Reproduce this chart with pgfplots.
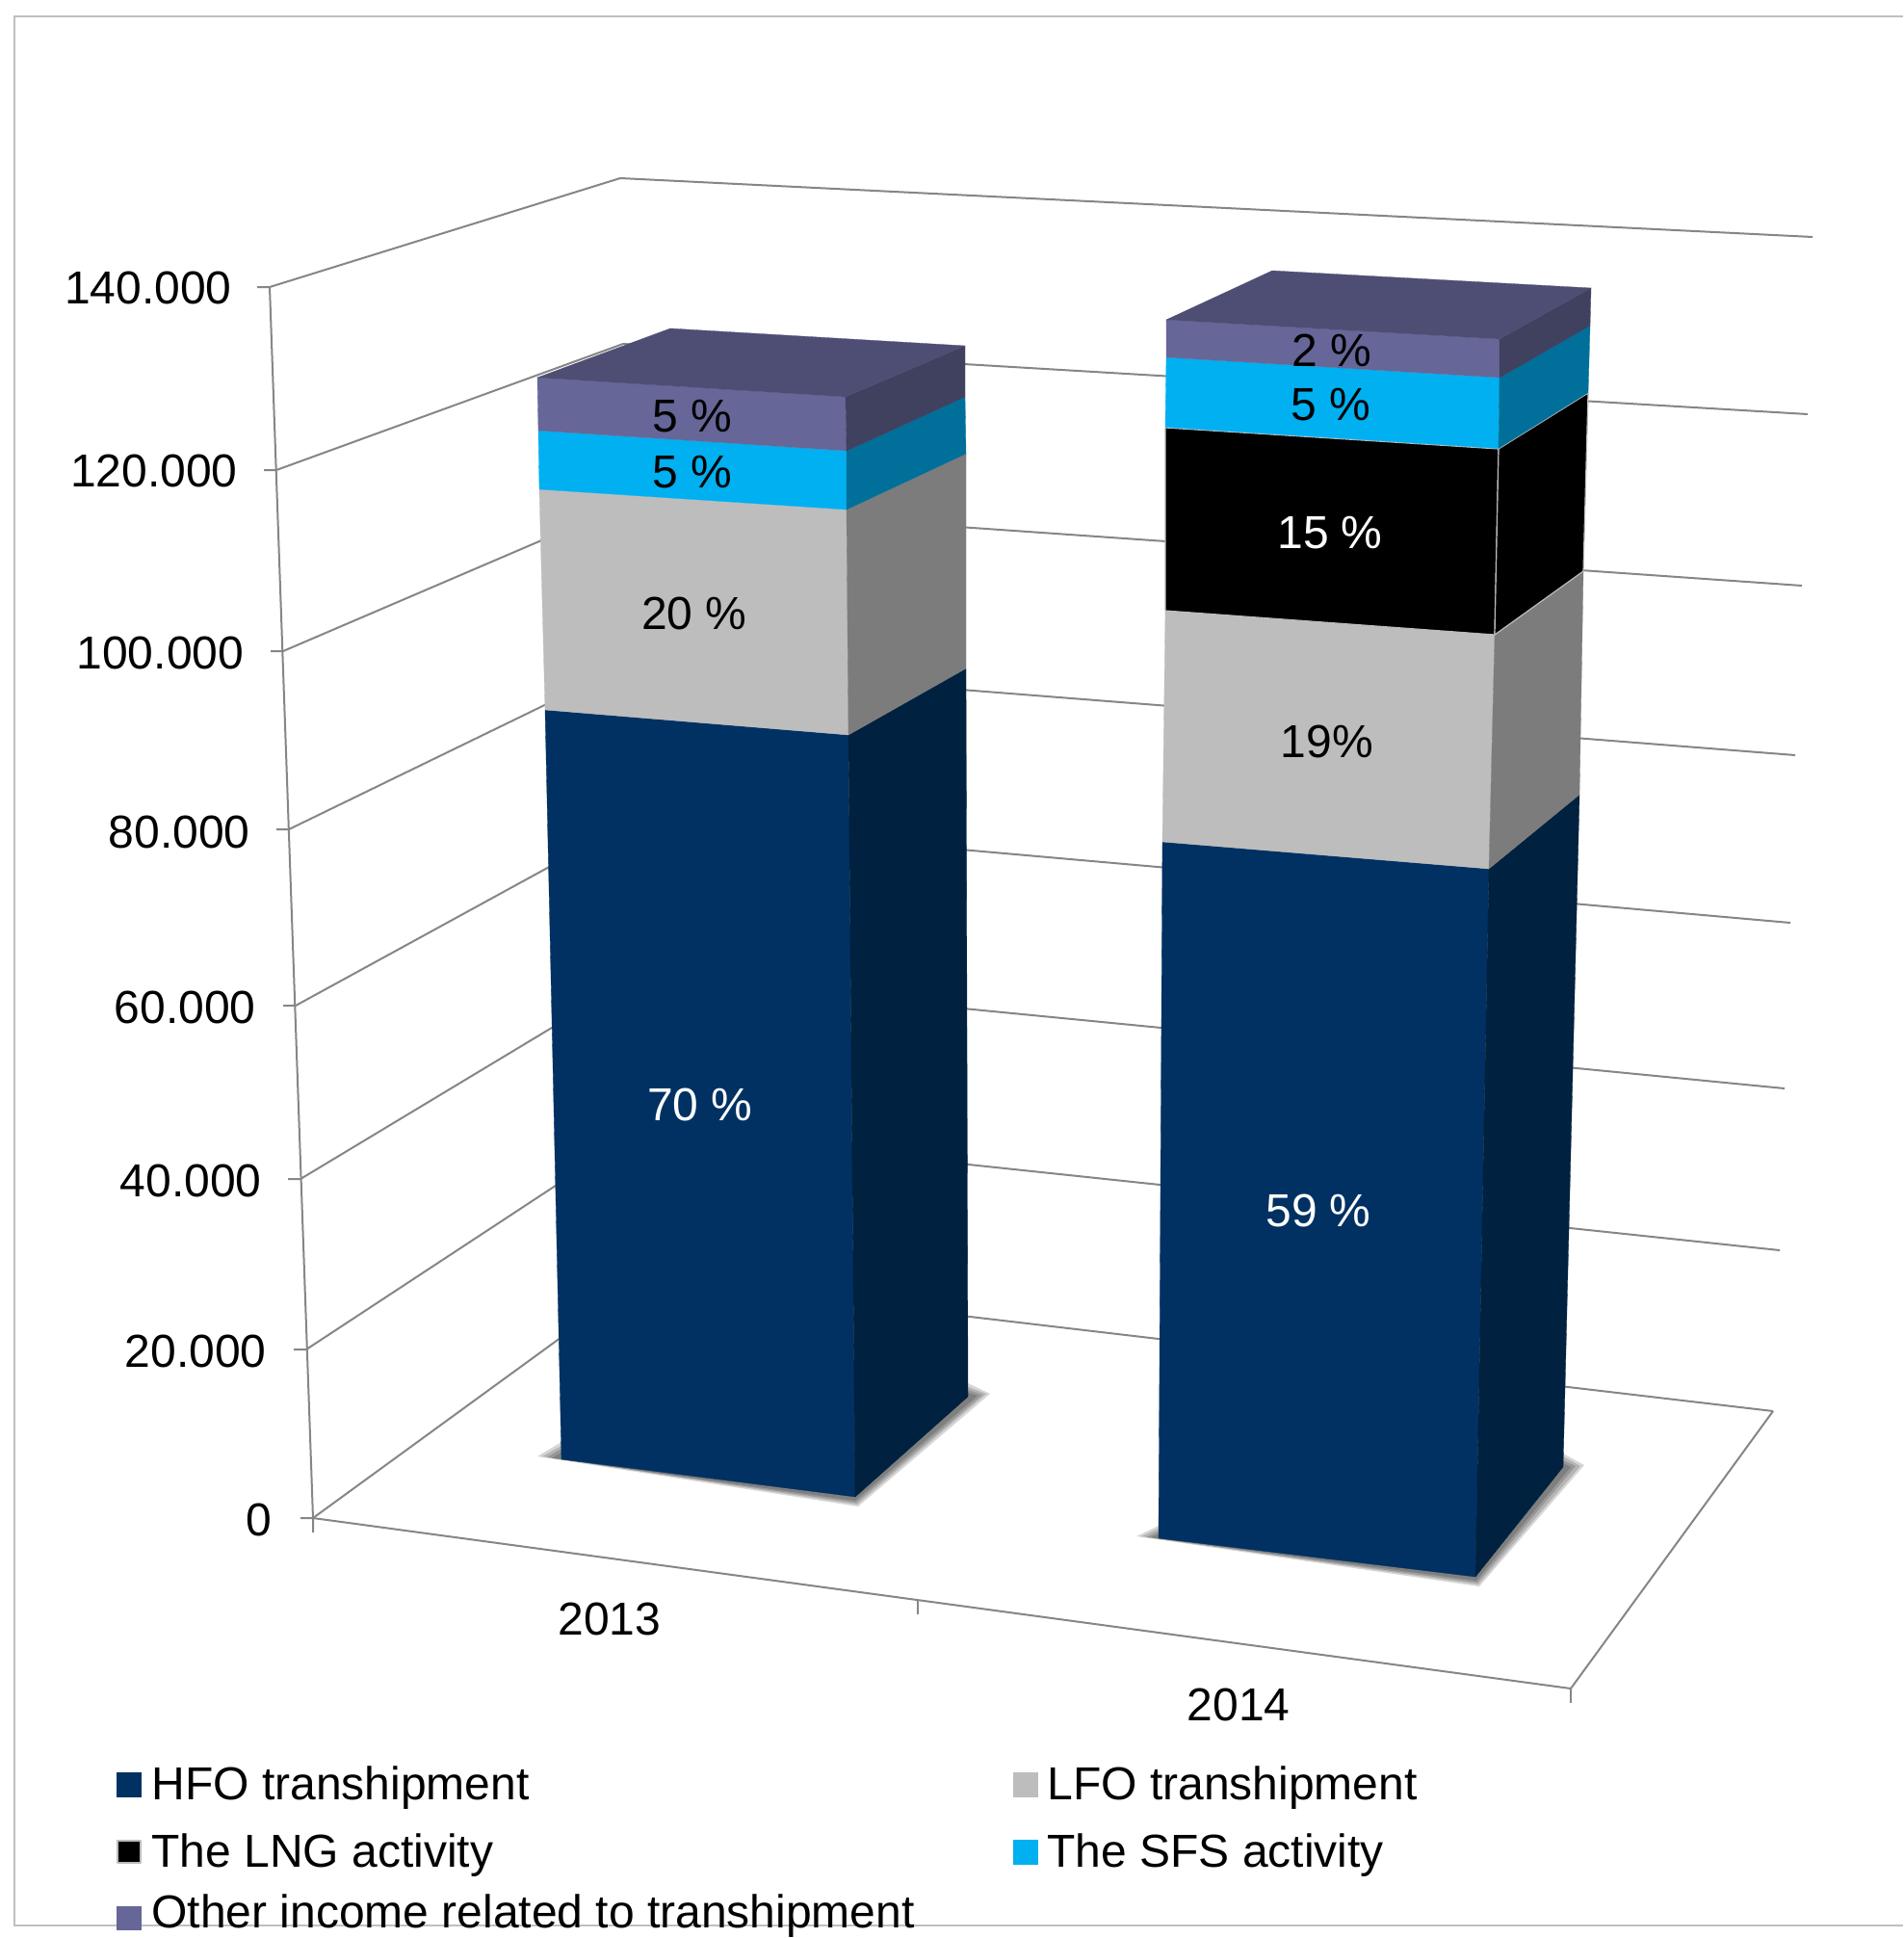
\documentclass[border=0pt]{standalone}
\usepackage{pgfplots}
\pgfplotsset{compat=1.18}
\usepackage{fontspec}
\setmainfont{Liberation Sans}
\definecolor{gridc}{HTML}{868686}
\definecolor{borderc}{HTML}{BFBFBF}
\definecolor{navyF}{HTML}{003162}
\definecolor{navyS}{HTML}{00213F}
\definecolor{greyF}{HTML}{BDBDBD}
\definecolor{greyS}{HTML}{7C7C7C}
\definecolor{cyanF}{HTML}{00B0F0}
\definecolor{cyanS}{HTML}{006F9A}
\definecolor{purpF}{HTML}{666699}
\definecolor{purpS}{HTML}{40405F}
\definecolor{purpT}{HTML}{4E4E74}
\newcommand{\fs}{\fontsize{24}{28}\selectfont}
\newcommand{\face}[2]{\addplot[fill=#1,draw=#1,line width=0.15pt] coordinates {#2} -- cycle;}
\newcommand{\edged}[2]{\addplot[fill=#1,draw=greyF,line width=0.6pt,line join=round] coordinates {#2} -- cycle;}
\newcommand{\gl}[1]{\addplot[gridc,line width=1pt] coordinates {#1};}
\newcommand{\shadow}[1]{\addplot[fill=black,fill opacity=0.16,draw=none] coordinates {#1} -- cycle;}
\newcommand{\lab}[4][black]{\node[text=#1,inner sep=0pt,anchor=center] at (axis cs:#2,#3) {\fs #4};}
\newcommand{\ytl}[3]{\node[inner sep=0pt,anchor=east] at (axis cs:#1,#2) {\fs #3};}
\newcommand{\leg}[3]{\node[inner sep=0pt,anchor=base west] at (axis cs:#1,#2) {\fs #3};}
\begin{document}
\begin{tikzpicture}
\useasboundingbox (0,0) rectangle (988pt,1006pt);
\begin{axis}[at={(0,0)},anchor=south west,scale only axis,width=988pt,height=1006pt,
  xmin=0,xmax=1976,ymin=0,ymax=2012,y dir=reverse,hide axis,clip=false]
% chart border
\addplot[borderc,line width=1pt] coordinates {(1976,17) (15,17) (15,1999) (1976,1999)};
% walls: left wall + back wall grid lines (one per 20.000 step)
\gl{(267,298) (280,298) (644,185) (1882,246)}
\gl{(274,488) (287,488) (647,357) (1877,430)}
\gl{(281,676) (294,676) (651,523) (1871,608)}
\gl{(287,861) (300,861) (654,689) (1864,784)}
\gl{(294,1044) (307,1044) (658,852) (1859,958)}
\gl{(299,1224) (312,1224) (661,1014) (1853,1130)}
\gl{(305,1401) (318,1401) (665,1173) (1848,1298)}
\gl{(312,1576) (325,1576) (667,1327) (1841,1465)}
% axis edges, floor, x ticks
\gl{(280,298) (325,1576)}
\gl{(325,1591) (325,1576) (1631,1753) (1841,1465)}
\gl{(1631,1753) (1631,1768)}
\gl{(953,1662) (953,1676)}
% shadows
\shadow{(558,1512) (583,1497) (1003,1435) (1028,1447) (891,1564)}
\shadow{(563,1512) (583,1501) (1003,1439) (1024,1447) (890,1562)}
\shadow{(568,1513) (583,1504) (1003,1442) (1020,1448) (889,1560)}
\shadow{(573,1514) (583,1508) (1003,1445) (1015,1449) (888,1558)}
\shadow{(1180,1595) (1205,1583) (1621,1508) (1645,1521) (1536,1647)}
\shadow{(1185,1595) (1205,1586) (1621,1511) (1641,1522) (1535,1645)}
\shadow{(1190,1596) (1205,1589) (1621,1515) (1636,1522) (1534,1643)}
\shadow{(1195,1596) (1205,1592) (1621,1518) (1631,1523) (1533,1641)}
% 2013 bar: stack HFO 70 %, LFO 20 %, SFS 5 %, other 5 %
\face{navyF}{(566,737) (881,763) (888,1554) (583,1515)}
\face{navyS}{(881,763) (1003,694) (1005,1450) (888,1554)}
\face{greyF}{(560,508) (879,529) (881,763) (566,737)}
\face{greyS}{(879,529) (1003,471) (1003,694) (881,763)}
\face{cyanF}{(559,447) (879,468) (879,529) (560,508)}
\face{cyanS}{(879,468) (1002,412) (1003,471) (879,529)}
\face{purpF}{(558,392) (878,412) (879,468) (559,447)}
\face{purpS}{(878,412) (1002,359) (1002,412) (879,468)}
\face{purpT}{(558,392) (696,341) (1002,359) (878,412)}
% 2014 bar: stack HFO 59 %, LFO 19 %, LNG 15 %, SFS 5 %, other 2 %
\face{navyF}{(1207,874) (1546,902) (1532,1637) (1203,1597)}
\face{navyS}{(1546,902) (1640,825) (1623,1523) (1532,1637)}
\face{greyF}{(1210,634) (1552,659) (1546,902) (1207,874)}
\face{greyS}{(1552,659) (1644,593) (1640,825) (1546,902)}
\edged{black}{(1210,444) (1556,466) (1552,659) (1210,634)}
\edged{black}{(1556,466) (1649,408) (1644,593) (1552,659)}
\face{cyanF}{(1211,371) (1557,392) (1556,465.5) (1210,443.5)}
\face{cyanS}{(1557,392) (1651,338) (1649,407.5) (1556,465.5)}
\face{purpF}{(1211,332) (1557,352) (1557,392) (1211,371)}
\face{purpS}{(1557,352) (1652,299) (1651,338) (1557,392)}
\face{purpT}{(1211,332) (1321,281) (1652,299) (1557,352)}
% data labels
\lab{719}{432}{5 \%}
\lab{719}{490}{5 \%}
\lab{721}{637}{20 \%}
\lab[white]{727}{1147}{70 \%}
\lab{1383}{364}{2 \%}
\lab{1382}{420}{5 \%}
\lab[white]{1381}{553}{15 \%}
\lab{1378}{770}{19\%}
\lab[white]{1369}{1257}{59 \%}
% y tick labels
\ytl{241}{299}{140.000}
\ytl{247}{489}{120.000}
\ytl{253.5}{678}{100.000}
\ytl{260}{864}{80.000}
\ytl{266}{1046}{60.000}
\ytl{272}{1226}{40.000}
\ytl{277}{1403}{20.000}
\ytl{283}{1578}{0}
% x tick labels
\lab{633}{1681}{2013}
\lab{1286}{1770}{2014}
% legend
\face{navyF}{(121,1840) (146,1840) (146,1865) (121,1865)}
\face{greyF}{(1052,1840) (1077,1840) (1077,1865) (1052,1865)}
\edged{black}{(122,1911) (146,1911) (146,1934) (122,1934)}
\face{cyanF}{(1052,1910) (1077,1910) (1077,1935) (1052,1935)}
\face{purpF}{(121,1979) (146,1979) (146,2003) (121,2003)}
\leg{157}{1868}{HFO transhipment}
\leg{1087}{1868}{LFO transhipment}
\leg{157}{1938}{The LNG activity}
\leg{1087}{1938}{The SFS activity}
\leg{157}{2001}{Other income related to transhipment}
\end{axis}
\end{tikzpicture}
\end{document}
